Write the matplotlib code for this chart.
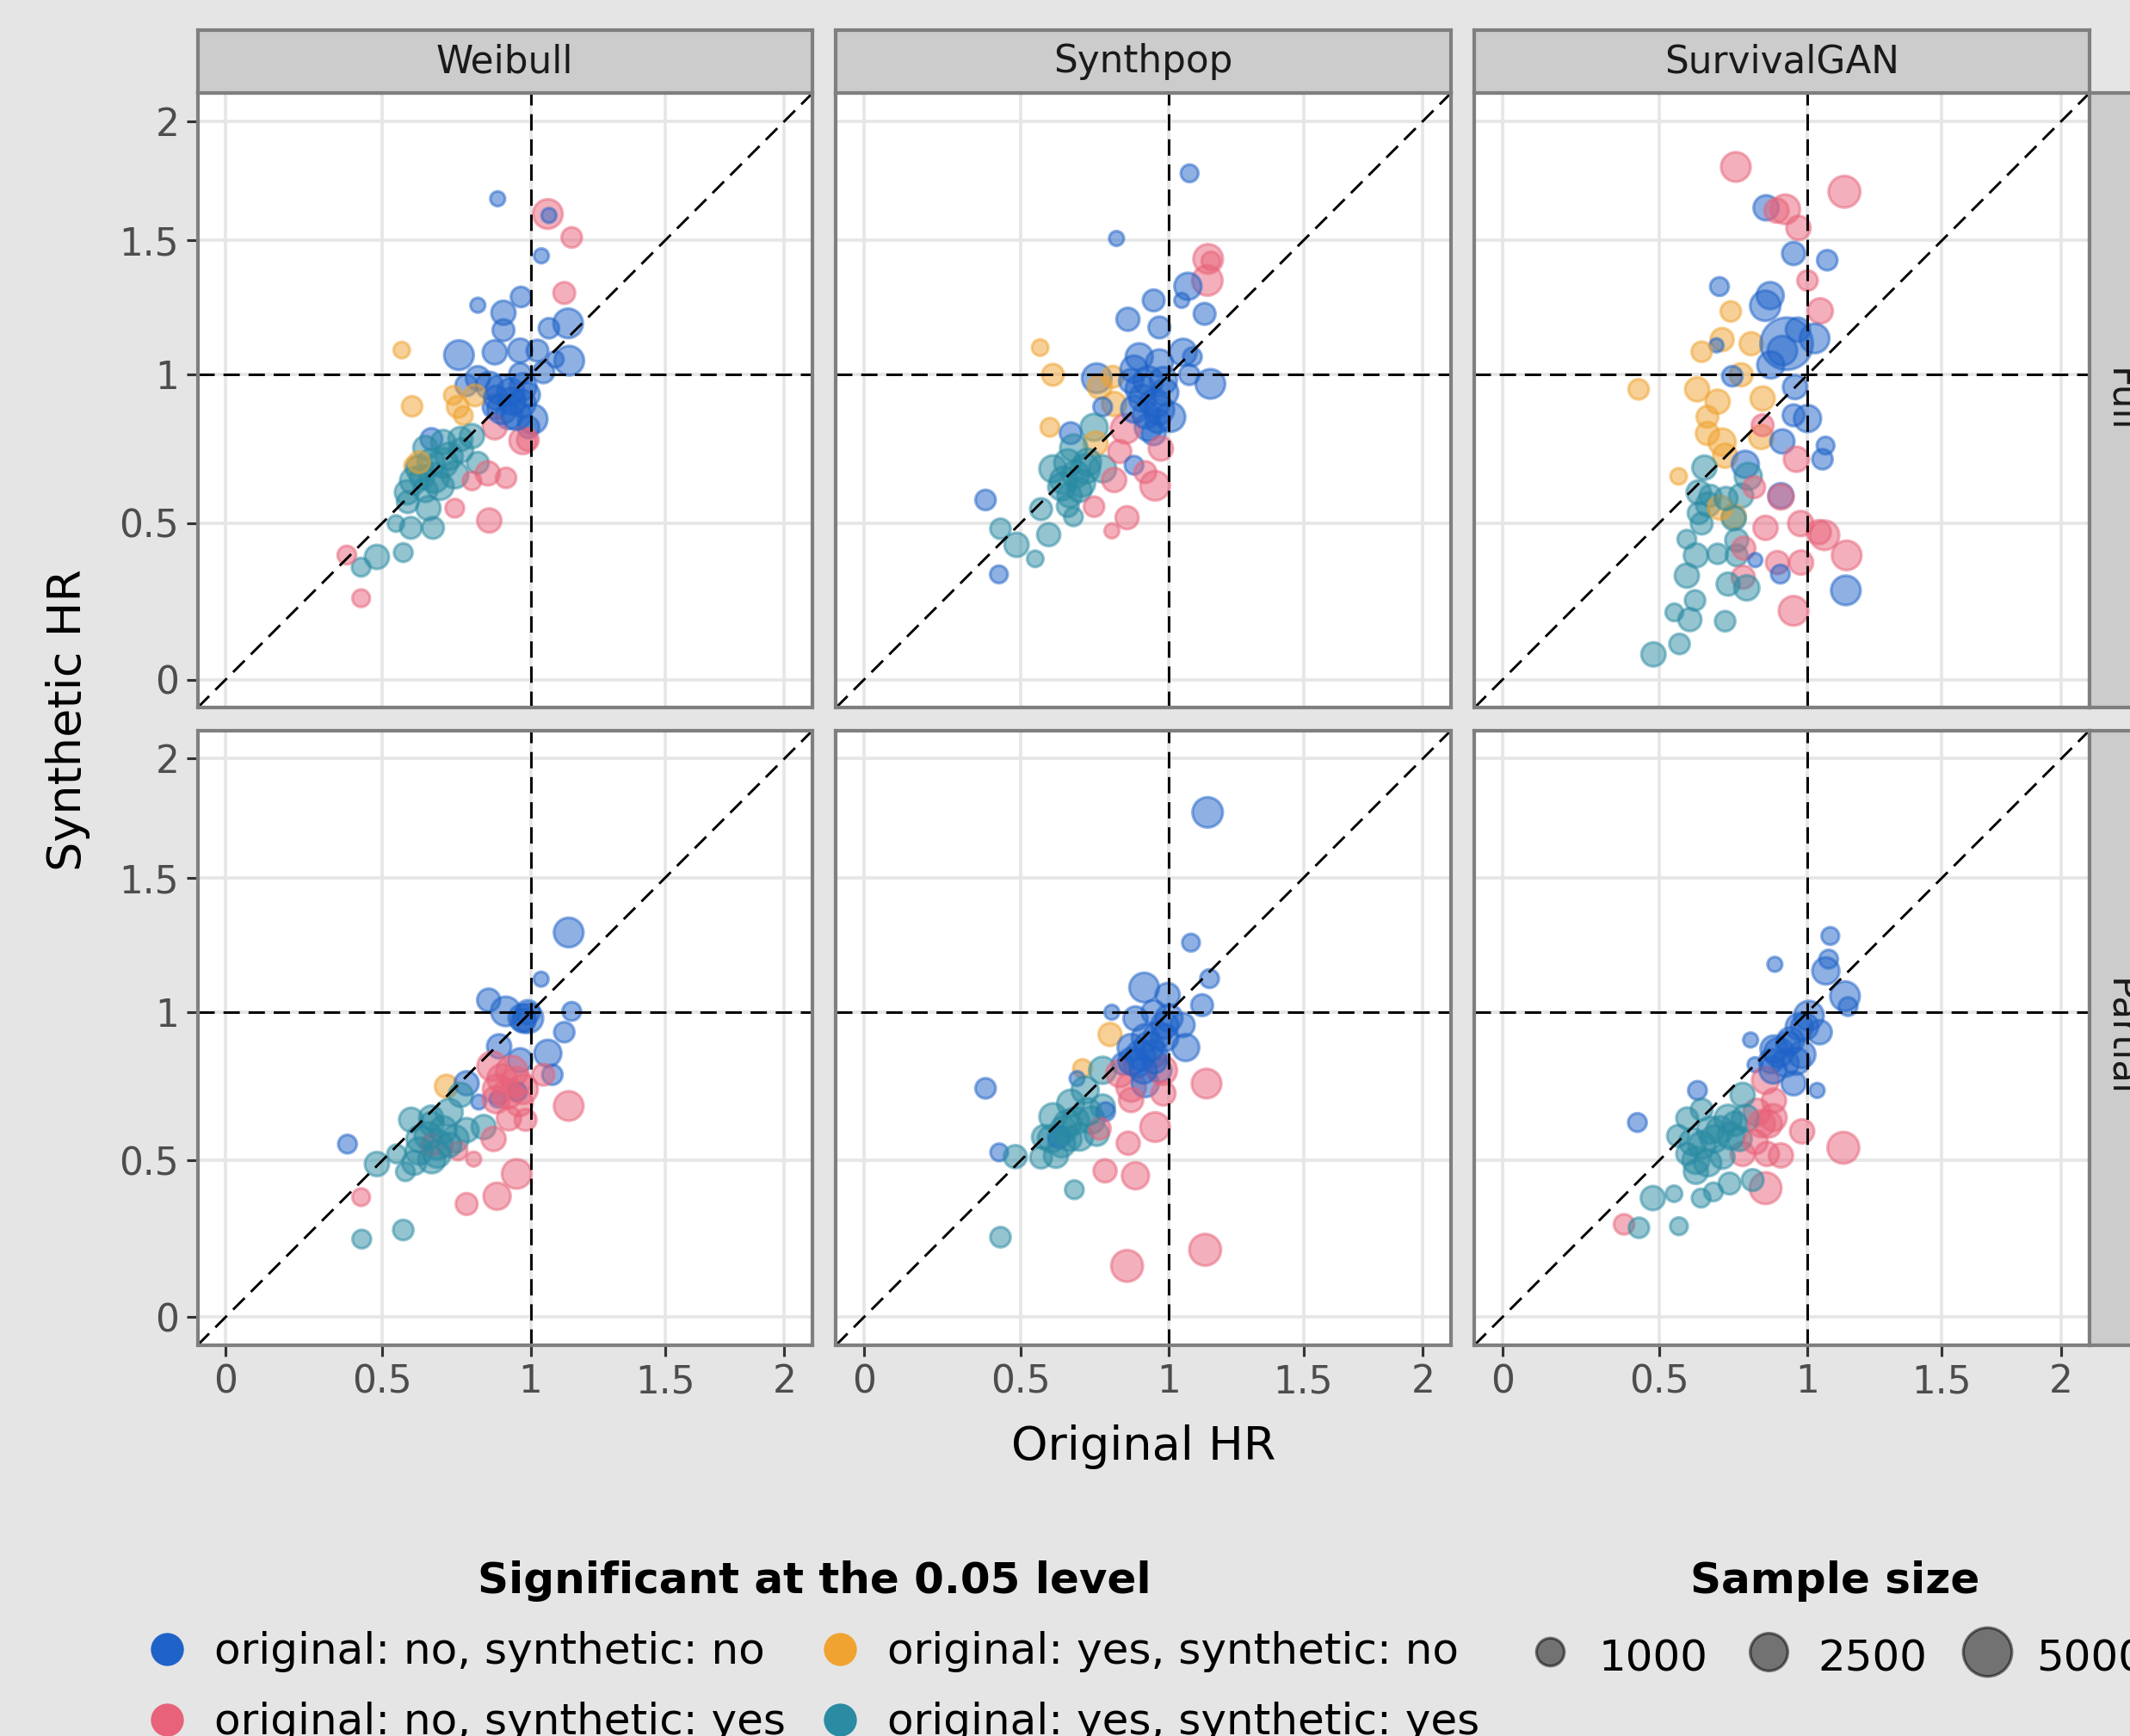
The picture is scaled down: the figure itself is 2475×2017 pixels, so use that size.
import matplotlib
matplotlib.use("Agg")
import matplotlib.pyplot as plt
import numpy as np
from matplotlib.lines import Line2D
from matplotlib.ticker import FixedLocator, NullLocator

# significance codes: first letter = original, second = synthetic ("n" no / "y" yes)

# ---- Weibull, Full ----
weibull_full_x = [0.885, 1.061, 1.065, 1.147, 1.038, 1.12, 0.817, 0.966, 0.905, 1.134, 1.065, 0.905,
                  0.753, 0.875, 0.963, 1.024, 1.138, 1.088, 1.045, 0.963, 0.563, 0.778, 0.856, 0.817,
                  0.895, 0.934, 0.973, 0.924, 1.007, 0.992, 0.875, 0.597, 0.734, 0.807, 0.749, 0.768,
                  0.875, 0.973, 0.99, 0.661, 0.641, 0.70, 0.758, 0.797, 0.817, 0.602, 0.70, 0.622,
                  0.602, 0.67, 0.739, 0.641, 0.583, 0.651, 0.544, 0.593, 0.666, 0.482, 0.431, 0.568,
                  0.797, 0.851, 0.914, 0.739, 0.856, 0.385, 0.431,
                  0.90, 0.95, 0.93, 0.97, 0.88, 0.99, 0.66, 0.72, 0.63, 0.69, 0.76, 0.58, 0.62]
weibull_full_y = [1.668, 1.606, 1.60, 1.512, 1.44, 1.298, 1.252, 1.283, 1.224, 1.185, 1.167, 1.16,
                  1.07, 1.08, 1.086, 1.086, 1.05, 1.055, 1.009, 1.003, 1.088, 0.963, 0.963, 0.988,
                  0.948, 0.908, 0.958, 0.858, 0.846, 0.818, 0.888, 0.89, 0.928, 0.928, 0.888, 0.858,
                  0.818, 0.773, 0.775, 0.778, 0.748, 0.768, 0.778, 0.788, 0.698, 0.688, 0.698, 0.678,
                  0.638, 0.648, 0.658, 0.608, 0.568, 0.548, 0.498, 0.484, 0.484, 0.39, 0.357, 0.404,
                  0.638, 0.663, 0.648, 0.548, 0.508, 0.396, 0.258,
                  0.88, 0.86, 0.94, 0.90, 0.92, 0.93, 0.70, 0.72, 0.65, 0.62, 0.74, 0.60, 0.70]
weibull_full_sig = ["nn", "ny", "nn", "ny", "nn", "ny", "nn", "nn", "nn", "nn", "nn", "nn",
                    "nn", "nn", "nn", "nn", "nn", "nn", "nn", "nn", "yn", "nn", "nn", "nn",
                    "nn", "nn", "nn", "nn", "nn", "nn", "nn", "yn", "yn", "yn", "yn", "yn",
                    "ny", "ny", "ny", "nn", "yy", "yy", "yy", "yy", "yy", "yn", "yy", "yy",
                    "yy", "yy", "yy", "yy", "yy", "yy", "yy", "yy", "yy", "yy", "yy", "yy",
                    "ny", "ny", "ny", "ny", "ny", "ny", "ny",
                    "nn", "nn", "nn", "nn", "nn", "nn", "yy", "yy", "yy", "yy", "yy", "yy", "yn"]
weibull_full_n = [50, 1200, 50, 300, 50, 400, 50, 300, 600, 1200, 300, 400,
                  1200, 600, 600, 400, 1200, 100, 400, 400, 100, 400, 900, 600,
                  1200, 900, 900, 900, 1200, 400, 600, 300, 200, 400, 400, 200,
                  600, 900, 400, 400, 600, 600, 600, 600, 400, 200, 1200, 900,
                  900, 1200, 900, 600, 400, 600, 100, 400, 400, 600, 200, 200,
                  200, 600, 300, 200, 600, 200, 150,
                  1200, 1200, 900, 900, 600, 600, 900, 900, 600, 900, 600, 600, 400]

# ---- Synthpop, Full ----
synthpop_full_x = [1.073, 0.818, 1.14, 1.15, 1.137, 1.067, 1.045, 0.946, 1.127, 0.857, 0.966, 0.563,
                   1.05, 1.083, 0.896, 0.966, 0.605, 0.751, 0.805, 1.148, 1.072, 0.878, 0.927, 0.985,
                   0.907, 0.966, 1.005, 0.927, 0.868, 0.946, 0.761, 0.81, 0.771, 0.849, 0.595, 0.664,
                   0.742, 0.747, 0.674, 0.605, 0.654, 0.712, 0.771, 0.634, 0.693, 0.566, 0.654, 0.673,
                   0.434, 0.486, 0.547, 0.591, 0.829, 0.81, 0.878, 0.917, 0.951, 0.971, 0.742, 0.854,
                   0.802, 0.386, 0.429,
                   0.90, 0.95, 0.92, 0.98, 0.88, 0.96, 0.68, 0.64, 0.72, 0.66, 0.70]
synthpop_full_y = [1.774, 1.508, 1.428, 1.42, 1.345, 1.323, 1.27, 1.27, 1.22, 1.2, 1.17, 1.097,
                   1.08, 1.064, 1.064, 1.042, 1.0, 0.988, 0.993, 0.968, 1.0, 1.02, 0.978, 0.938,
                   0.918, 0.878, 0.853, 0.818, 0.978, 0.798, 0.958, 0.898, 0.888, 0.813, 0.818, 0.798,
                   0.818, 0.763, 0.748, 0.678, 0.698, 0.678, 0.678, 0.618, 0.608, 0.545, 0.555, 0.52,
                   0.481, 0.429, 0.384, 0.462, 0.736, 0.641, 0.69, 0.667, 0.622, 0.746, 0.553, 0.517,
                   0.474, 0.575, 0.334,
                   0.95, 0.90, 0.86, 0.98, 0.88, 0.84, 0.66, 0.64, 0.70, 0.59, 0.63]
synthpop_full_sig = ["nn", "nn", "ny", "ny", "ny", "nn", "nn", "nn", "nn", "nn", "nn", "yn",
                     "nn", "nn", "nn", "nn", "yn", "nn", "yn", "nn", "nn", "nn", "nn", "nn",
                     "nn", "nn", "nn", "nn", "nn", "nn", "yn", "yn", "nn", "ny", "yn", "nn",
                     "yy", "yn", "yy", "yy", "yy", "yy", "yy", "yy", "yy", "yy", "yy", "yy",
                     "yy", "yy", "yy", "yy", "ny", "ny", "nn", "ny", "ny", "ny", "ny", "ny",
                     "ny", "nn", "nn",
                     "nn", "nn", "nn", "nn", "nn", "nn", "yy", "yy", "yy", "yy", "yy"]
synthpop_full_n = [150, 50, 1200, 200, 1300, 900, 50, 400, 400, 500, 400, 100,
                   900, 200, 900, 900, 400, 1200, 400, 1200, 300, 900, 1200, 900,
                   900, 1200, 1200, 900, 600, 600, 600, 600, 200, 1200, 200, 400,
                   900, 600, 900, 900, 900, 1200, 900, 900, 600, 400, 400, 200,
                   300, 600, 100, 500, 500, 600, 200, 400, 1200, 600, 300, 500,
                   50, 300, 150,
                   1200, 1200, 900, 900, 900, 600, 900, 900, 900, 600, 900]

# ---- SurvivalGAN, Full ----
survgan_full_x = [0.753, 1.132, 0.856, 0.892, 0.922, 0.968, 0.951, 1.07, 1.0, 0.698, 0.853, 0.87,
                  1.045, 0.736, 0.707, 0.688, 0.639, 0.805, 0.927, 0.966, 1.025, 0.912, 0.872, 0.771,
                  0.741, 0.433, 0.624, 0.692, 0.956, 0.844, 0.658, 0.658, 0.707, 0.839, 0.951, 1.0,
                  0.912, 0.844, 1.064, 1.053, 0.961, 0.717, 0.563, 0.648, 0.785, 0.795, 0.629, 0.668,
                  0.771, 0.815, 0.907, 0.907, 0.629, 0.639, 0.746, 0.746, 0.854, 0.976, 1.04, 1.06,
                  1.14, 0.59, 0.62, 0.756, 0.756, 0.692, 0.78, 0.895, 0.977, 0.819, 1.137, 0.905,
                  0.59, 0.778, 0.727, 0.79, 0.951, 0.617, 0.549, 0.6, 0.717, 0.566, 0.481,
                  0.66, 0.70, 0.72]
survgan_full_y = [1.801, 1.697, 1.631, 1.62, 1.625, 1.55, 1.449, 1.423, 1.345, 1.322, 1.25, 1.288,
                  1.231, 1.229, 1.126, 1.105, 1.082, 1.111, 1.111, 1.162, 1.13, 1.086, 1.035, 1.0,
                  0.995, 0.949, 0.949, 0.906, 0.957, 0.917, 0.854, 0.797, 0.768, 0.785, 0.859, 0.848,
                  0.77, 0.825, 0.756, 0.71, 0.71, 0.722, 0.653, 0.682, 0.693, 0.653, 0.6, 0.589,
                  0.589, 0.617, 0.589, 0.585, 0.532, 0.498, 0.521, 0.515, 0.484, 0.498, 0.47, 0.46,
                  0.395, 0.447, 0.395, 0.444, 0.395, 0.40, 0.418, 0.372, 0.372, 0.38, 0.283, 0.335,
                  0.33, 0.325, 0.303, 0.291, 0.218, 0.251, 0.213, 0.19, 0.185, 0.113, 0.08,
                  0.56, 0.55, 0.58]
survgan_full_sig = ["ny", "ny", "nn", "ny", "ny", "ny", "nn", "nn", "ny", "nn", "nn", "nn",
                    "ny", "yn", "yn", "nn", "yn", "yn", "nn", "nn", "nn", "nn", "nn", "yn",
                    "nn", "yn", "yn", "yn", "nn", "yn", "yn", "yn", "yn", "yn", "nn", "nn",
                    "nn", "ny", "nn", "nn", "ny", "yn", "yn", "yy", "nn", "yy", "yy", "yy",
                    "yy", "ny", "nn", "ny", "yy", "yy", "yn", "yy", "ny", "ny", "ny", "ny",
                    "ny", "yy", "yy", "yy", "yy", "yy", "ny", "ny", "ny", "nn", "nn", "nn",
                    "yy", "ny", "yy", "yy", "ny", "yy", "yy", "yy", "yy", "yy", "yy",
                    "yy", "yn", "yy"]
survgan_full_n = [1200, 1500, 700, 600, 1200, 600, 500, 300, 300, 200, 1300, 900,
                  700, 300, 500, 30, 300, 500, 6000, 600, 1200, 1200, 900, 500,
                  300, 300, 600, 600, 600, 600, 400, 500, 900, 600, 400, 900,
                  600, 400, 150, 300, 700, 600, 100, 600, 900, 900, 600, 400,
                  600, 400, 700, 700, 400, 400, 600, 600, 600, 700, 600, 1200,
                  1200, 200, 600, 500, 400, 300, 500, 500, 600, 30, 1200, 200,
                  600, 500, 500, 700, 1200, 300, 150, 500, 300, 300, 600,
                  600, 600, 500]

# ---- Weibull, Partial ----
weibull_part_x = [1.136, 1.037, 0.854, 0.913, 0.992, 0.975, 1.147, 1.12, 0.89, 0.963, 1.061, 1.077,
                  0.866, 0.934, 0.885, 0.973, 0.924, 0.982, 1.045, 0.885, 0.953, 0.82, 0.711, 0.779,
                  1.136, 0.594, 0.662, 0.72, 0.759, 0.623, 0.681, 0.74, 0.779, 0.604, 0.662, 0.575,
                  0.546, 0.837, 0.662, 0.75, 0.871, 0.803, 0.387, 0.482, 0.431, 0.951, 0.883, 0.779,
                  0.568, 0.433,
                  0.90, 0.95, 0.88, 0.96, 0.92, 0.65, 0.70, 0.62, 0.68, 0.72, 0.66, 0.97, 0.99]
weibull_part_y = [1.29, 1.118, 1.043, 1.003, 0.979, 0.97, 1.003, 0.93, 0.881, 0.833, 0.857, 0.784,
                  0.813, 0.794, 0.735, 0.735, 0.638, 0.633, 0.784, 0.701, 0.726, 0.692, 0.745, 0.755,
                  0.679, 0.633, 0.619, 0.658, 0.716, 0.57, 0.551, 0.57, 0.599, 0.492, 0.502, 0.463,
                  0.521, 0.609, 0.551, 0.531, 0.57, 0.504, 0.553, 0.488, 0.381, 0.456, 0.384, 0.359,
                  0.276, 0.247,
                  0.77, 0.76, 0.70, 0.69, 0.72, 0.58, 0.60, 0.53, 0.52, 0.55, 0.64, 0.98, 1.0]
weibull_part_sig = ["nn", "nn", "nn", "nn", "nn", "nn", "nn", "nn", "nn", "nn", "nn", "nn",
                    "ny", "ny", "ny", "ny", "ny", "ny", "ny", "nn", "nn", "nn", "yn", "nn",
                    "ny", "yy", "yy", "yy", "yy", "yy", "yy", "yy", "yy", "yy", "yy", "yy",
                    "yy", "yy", "ny", "ny", "ny", "ny", "nn", "yy", "ny", "ny", "ny", "ny",
                    "yy", "yy",
                    "ny", "ny", "ny", "ny", "ny", "yy", "yy", "yy", "yy", "yy", "yy", "nn", "nn"]
weibull_part_n = [1200, 50, 500, 1200, 1200, 600, 200, 300, 600, 600, 900, 300,
                  1200, 1500, 1200, 1200, 600, 400, 400, 100, 200, 50, 500, 600,
                  1200, 600, 600, 900, 600, 900, 1200, 900, 600, 600, 900, 200,
                  200, 600, 400, 200, 600, 50, 200, 600, 150, 1200, 900, 400,
                  300, 200,
                  1200, 1200, 900, 900, 1200, 900, 900, 900, 900, 600, 600, 900, 600]

# ---- Synthpop, Partial ----
synthpop_part_x = [1.138, 1.078, 1.145, 0.913, 0.995, 1.118, 0.802, 0.883, 0.796, 0.946, 0.985, 1.048,
                   1.059, 0.868, 0.917, 0.946, 0.985, 0.888, 0.839, 0.966, 0.703, 0.771, 0.829, 0.868,
                   0.917, 0.976, 0.98, 0.868, 0.685, 1.134, 0.712, 0.664, 0.605, 0.654, 0.732, 0.771,
                   0.576, 0.634, 0.693, 0.751, 0.566, 0.615, 0.781, 0.625, 0.761, 0.951, 0.858, 0.386,
                   0.43, 0.482, 0.779, 0.883, 0.676, 0.434, 0.854, 1.129,
                   0.90, 0.93, 0.87, 0.96, 0.91, 0.95, 1.0, 0.64, 0.68, 0.72, 0.60, 0.66]
synthpop_part_y = [1.767, 1.252, 1.12, 1.088, 1.061, 1.025, 1.0, 0.978, 0.922, 1.0, 0.955, 0.955,
                   0.877, 0.877, 0.911, 0.855, 0.911, 0.821, 0.821, 0.799, 0.805, 0.799, 0.788, 0.743,
                   0.754, 0.799, 0.721, 0.699, 0.771, 0.754, 0.732, 0.688, 0.643, 0.621, 0.632, 0.677,
                   0.576, 0.554, 0.576, 0.587, 0.509, 0.515, 0.66, 0.576, 0.604, 0.609, 0.556, 0.738,
                   0.526, 0.512, 0.466, 0.45, 0.405, 0.253, 0.162, 0.213,
                   0.85, 0.88, 0.83, 0.92, 0.80, 0.83, 0.98, 0.60, 0.63, 0.66, 0.57, 0.57]
synthpop_part_sig = ["nn", "nn", "nn", "nn", "nn", "nn", "nn", "nn", "yn", "nn", "nn", "nn",
                     "nn", "nn", "nn", "nn", "nn", "nn", "nn", "nn", "yn", "yy", "ny", "ny",
                     "nn", "ny", "ny", "ny", "nn", "ny", "yy", "yy", "yy", "yy", "yy", "yy",
                     "yy", "yy", "yy", "yy", "yy", "yy", "nn", "nn", "ny", "ny", "ny", "nn",
                     "nn", "yy", "ny", "ny", "yy", "yy", "ny", "ny",
                     "nn", "nn", "nn", "nn", "nn", "nn", "nn", "yy", "yy", "yy", "yy", "yy"]
synthpop_part_n = [1300, 150, 200, 1200, 600, 400, 50, 600, 500, 600, 900, 600,
                   900, 900, 900, 900, 900, 900, 400, 600, 200, 900, 900, 1200,
                   900, 1200, 600, 600, 50, 1200, 900, 900, 900, 900, 900, 600,
                   600, 900, 900, 600, 400, 600, 200, 400, 400, 1200, 500, 300,
                   150, 500, 500, 900, 200, 300, 1500, 1500,
                   1200, 1200, 900, 900, 900, 600, 900, 900, 900, 900, 900, 600]

# ---- SurvivalGAN, Partial ----
survgan_part_x = [1.081, 0.886, 1.075, 1.065, 1.134, 1.145, 1.005, 1.043, 0.803, 0.883, 0.932, 0.971,
                  0.98, 0.922, 0.951, 0.873, 1.034, 0.818, 0.625, 0.854, 0.883, 0.864, 0.825, 0.776,
                  0.859, 0.907, 0.981, 1.128, 0.854, 0.429, 0.591, 0.639, 0.561, 0.61, 0.668, 0.727,
                  0.776, 0.786, 0.737, 0.591, 0.659, 0.62, 0.708, 0.766, 0.732, 0.81, 0.678, 0.637,
                  0.479, 0.548, 0.386, 0.434, 0.564,
                  0.90, 0.94, 0.96, 0.88, 0.99, 0.64, 0.68, 0.70, 0.62, 0.75, 0.84, 0.88, 0.82]
survgan_part_y = [1.277, 1.172, 1.191, 1.148, 1.057, 1.02, 0.988, 0.93, 0.903, 0.872, 0.891, 0.949,
                  0.853, 0.823, 0.755, 0.83, 0.731, 0.818, 0.731, 0.765, 0.697, 0.619, 0.658, 0.521,
                  0.521, 0.516, 0.595, 0.541, 0.41, 0.624, 0.638, 0.667, 0.58, 0.56, 0.599, 0.638,
                  0.716, 0.638, 0.58, 0.521, 0.492, 0.463, 0.512, 0.57, 0.425, 0.436, 0.398, 0.378,
                  0.378, 0.392, 0.294, 0.283, 0.288,
                  0.86, 0.90, 0.83, 0.80, 0.95, 0.55, 0.57, 0.60, 0.50, 0.62, 0.62, 0.64, 0.56]
survgan_part_sig = ["nn", "nn", "nn", "nn", "nn", "nn", "nn", "nn", "nn", "nn", "nn", "nn",
                    "nn", "nn", "nn", "nn", "nn", "nn", "nn", "ny", "ny", "ny", "ny", "ny",
                    "ny", "ny", "ny", "ny", "ny", "nn", "yy", "yy", "yy", "yy", "yy", "yy",
                    "yy", "yy", "yy", "yy", "yy", "yy", "yy", "yy", "yy", "yy", "yy", "yy",
                    "yy", "yy", "ny", "yy", "yy",
                    "nn", "nn", "nn", "nn", "nn", "yy", "yy", "yy", "yy", "yy", "ny", "ny", "ny"]
survgan_part_n = [150, 50, 200, 900, 1200, 200, 1200, 600, 50, 900, 600, 900,
                  900, 900, 600, 600, 50, 50, 200, 900, 600, 900, 900, 600,
                  600, 600, 600, 1500, 1500, 200, 400, 400, 400, 900, 900, 900,
                  600, 900, 900, 400, 900, 600, 600, 600, 400, 400, 200, 200,
                  600, 100, 300, 300, 150,
                  1200, 900, 900, 900, 900, 900, 900, 900, 900, 600, 900, 900, 600]

methods = ["Weibull", "Synthpop", "SurvivalGAN"]
analyses = ["Full", "Partial"]
panels = {
    ("Weibull", "Full"): (weibull_full_x, weibull_full_y, weibull_full_sig, weibull_full_n),
    ("Synthpop", "Full"): (synthpop_full_x, synthpop_full_y, synthpop_full_sig, synthpop_full_n),
    ("SurvivalGAN", "Full"): (survgan_full_x, survgan_full_y, survgan_full_sig, survgan_full_n),
    ("Weibull", "Partial"): (weibull_part_x, weibull_part_y, weibull_part_sig, weibull_part_n),
    ("Synthpop", "Partial"): (synthpop_part_x, synthpop_part_y, synthpop_part_sig, synthpop_part_n),
    ("SurvivalGAN", "Partial"): (survgan_part_x, survgan_part_y, survgan_part_sig, survgan_part_n),
}

sig_codes = ["nn", "ny", "yn", "yy"]
sig_labels = ["original: no, synthetic: no", "original: no, synthetic: yes",
              "original: yes, synthetic: no", "original: yes, synthetic: yes"]
sig_colors = ["#1F63C8", "#E8637A", "#F0A330", "#2A8BA3"]
legend_sizes = [1000, 2500, 5000]

ticks = [0, 0.5, 1, 1.5, 2]
tick_labels = ["0", "0.5", "1", "1.5", "2"]

# ---- figure geometry (pixels) ----
W, H, DPI = 2475, 2017, 300
PX = 72 / DPI  # points per pixel
COL_LEFT = [229.6, 971.4, 1713.3]
ROW_TOP = [108.4, 849.0]
PANEL_W, PANEL_H = 714.3, 713.8
STRIP = 73
BG = "#E5E5E5"
BORDER = "#7F7F7F"
EDGE_LW = 0.8


def rect(x, y, w, h):
    return [x / W, 1 - (y + h) / H, w / W, h / H]


def diam_px(n):
    return 1.05 * (15.3 + 0.59 * np.sqrt(np.asarray(n, dtype=float)))


def marker_area(n):
    return ((diam_px(n) - EDGE_LW / PX) * PX) ** 2


# pseudo-log axis (asinh, sigma = 1) with 5% expansion around [0, 2]
t_lo, t_hi = 0.0, np.arcsinh(1.0)
pad = 0.05 * (t_hi - t_lo)
lim = (2 * np.sinh(t_lo - pad), 2 * np.sinh(t_hi + pad))

fig = plt.figure(figsize=(W / DPI, H / DPI), dpi=DPI, facecolor=BG)
color_of = dict(zip(sig_codes, sig_colors))

for r, analysis in enumerate(analyses):
    for c, method in enumerate(methods):
        ax = fig.add_axes(rect(COL_LEFT[c], ROW_TOP[r], PANEL_W, PANEL_H))
        ax.set_facecolor("white")
        ax.set_xscale("asinh", linear_width=2)
        ax.set_yscale("asinh", linear_width=2)
        ax.set_xlim(lim)
        ax.set_ylim(lim)
        for axis in (ax.xaxis, ax.yaxis):
            axis.set_major_locator(FixedLocator(ticks))
            axis.set_minor_locator(NullLocator())
        ax.set_xticklabels(tick_labels)
        ax.set_yticklabels(tick_labels)
        ax.grid(True, color="#E6E6E6", lw=0.9, zorder=0)
        ax.set_axisbelow(True)
        for sp in ax.spines.values():
            sp.set_color(BORDER)
            sp.set_linewidth(1.0)
            sp.set_zorder(6)
        ax.tick_params(length=3.1, width=0.75, color="#333333", labelcolor="#4D4D4D",
                       labelsize=10.5, pad=2.0,
                       left=(c == 0), labelleft=(c == 0),
                       bottom=(r == 1), labelbottom=(r == 1))

        x, y, sig, n = panels[(method, analysis)]
        cols = [color_of[s] for s in sig]
        ax.scatter(x, y, s=marker_area(n), c=cols, edgecolors=cols, linewidths=EDGE_LW,
                   alpha=0.5, zorder=3)

        dash = (0, (6.5, 3.5))
        ax.axhline(1, color="black", lw=0.7, ls=dash, zorder=4)
        ax.axvline(1, color="black", lw=0.7, ls=dash, zorder=4)
        ax.plot(lim, lim, color="black", lw=0.7, ls=dash, zorder=4)

        if r == 0:
            sax = fig.add_axes(rect(COL_LEFT[c], ROW_TOP[0] - STRIP, PANEL_W, STRIP))
            sax.set_facecolor("#CCCCCC")
            sax.set_xticks([])
            sax.set_yticks([])
            for sp in sax.spines.values():
                sp.set_color(BORDER)
                sp.set_linewidth(1.0)
            sax.text(0.5, 0.5, method, ha="center", va="center", fontsize=10.5,
                     color="#1A1A1A", transform=sax.transAxes)
        if c == 2:
            sax = fig.add_axes(rect(COL_LEFT[2] + PANEL_W, ROW_TOP[r], STRIP, PANEL_H))
            sax.set_facecolor("#CCCCCC")
            sax.set_xticks([])
            sax.set_yticks([])
            for sp in sax.spines.values():
                sp.set_color(BORDER)
                sp.set_linewidth(1.0)
            sax.text(0.5, 0.5, analysis, ha="center", va="center", fontsize=10.5,
                     rotation=-90, color="#1A1A1A", transform=sax.transAxes)

fig.text(1329 / W, 1 - 1681 / H, "Original HR", ha="center", va="center", fontsize=13)
fig.text(79 / W, 1 - 836 / H, "Synthetic HR", ha="center", va="center", fontsize=13,
         rotation=90)

# colour legend
handles = [Line2D([], [], ls="none", marker="o", markersize=8.2, markerfacecolor=col,
                  markeredgecolor=col) for col in sig_colors]
leg = fig.legend(handles, sig_labels, ncol=2, loc="upper left",
                 bbox_to_anchor=(174 / W, 1 - 1813 / H), frameon=False, fontsize=12,
                 title="Significant at the 0.05 level",
                 title_fontproperties={"weight": "bold", "size": 12},
                 handlelength=0.8, handletextpad=0.7, columnspacing=0.86,
                 labelspacing=0.68, borderpad=0, borderaxespad=0)

# size legend
size_handles = [Line2D([], [], ls="none", marker="o",
                       markersize=(diam_px(v) - EDGE_LW / PX) * PX,
                       markerfacecolor=(0, 0, 0, 0.5), markeredgecolor=(0, 0, 0, 0.5),
                       markeredgewidth=EDGE_LW) for v in legend_sizes]
leg2 = fig.legend(size_handles, [str(v) for v in legend_sizes], ncol=3, loc="upper left",
                  bbox_to_anchor=(1771 / W, 1 - 1813 / H), frameon=False, fontsize=12,
                  title="Sample size",
                  title_fontproperties={"weight": "bold", "size": 12},
                  handlelength=1.2, handleheight=1.5, handletextpad=0.54, columnspacing=0.8,
                  labelspacing=0.68, borderpad=0, borderaxespad=0)

fig.savefig("out.png", dpi=DPI, facecolor=BG)
